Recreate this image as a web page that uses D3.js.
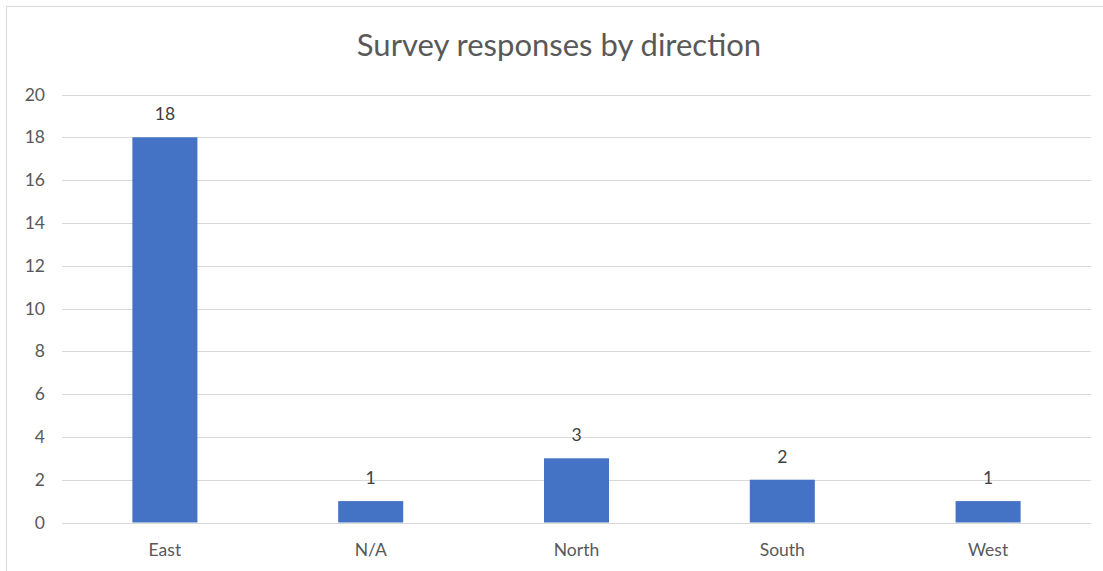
<!DOCTYPE html>
<html>
<head>
<meta charset="utf-8">
<script src="https://cdn.jsdelivr.net/npm/d3@7"></script>
<style>
  body { margin: 0; background: #fff; }
  text { font-family: Lato, "Open Sans", sans-serif; }
</style>
</head>
<body>
<svg width="1103" height="571"></svg>
<script>
const categories = ["East", "N/A", "North", "South", "West"];
const values = [18, 1, 3, 2, 1];
const yTicks = [0, 2, 4, 6, 8, 10, 12, 14, 16, 18, 20];

const svg = d3.select("svg");
const width = +svg.attr("width");
const height = +svg.attr("height");

// chart area border (right/bottom run off the picture)
svg.append("rect")
    .attr("x", 6.5).attr("y", 6.5)
    .attr("width", width + 10).attr("height", height + 10)
    .attr("fill", "none")
    .attr("stroke", "#d9d9d9");

svg.append("text")
    .attr("x", 559).attr("y", 56)
    .attr("text-anchor", "middle")
    .attr("font-size", 31)
    .attr("fill", "#595959")
    .text("Survey responses by direction");

const x = d3.scaleBand().domain(categories).range([62, 1091]);
const y = d3.scaleLinear().domain([0, 20]).range([522.5, 94.5]);

// gridlines
svg.append("g")
    .selectAll("line")
    .data(yTicks)
    .enter().append("line")
    .attr("x1", 62).attr("x2", 1091)
    .attr("y1", d => Math.round(y(d)) + 0.5)
    .attr("y2", d => Math.round(y(d)) + 0.5)
    .attr("stroke", "#d9d9d9")
    .attr("stroke-width", 1);

// y tick labels
svg.append("g")
    .selectAll("text")
    .data(yTicks)
    .enter().append("text")
    .attr("x", 45)
    .attr("y", d => y(d))
    .attr("dy", "0.35em")
    .attr("text-anchor", "end")
    .attr("font-size", 17.5)
    .attr("fill", "#595959")
    .text(d => d);

const barW = x.bandwidth() * 0.316;

svg.append("g")
    .selectAll("rect")
    .data(values)
    .enter().append("rect")
    .attr("x", (d, i) => x(categories[i]) + x.bandwidth() / 2 - barW / 2)
    .attr("y", d => y(d))
    .attr("width", barW)
    .attr("height", d => y(0) - y(d))
    .attr("fill", "#4472c4");

// data labels
svg.append("g")
    .selectAll("text")
    .data(values)
    .enter().append("text")
    .attr("x", (d, i) => x(categories[i]) + x.bandwidth() / 2)
    .attr("y", d => y(d) - 17)
    .attr("text-anchor", "middle")
    .attr("font-size", 17.5)
    .attr("fill", "#404040")
    .text(d => d);

// category labels
svg.append("g")
    .selectAll("text")
    .data(categories)
    .enter().append("text")
    .attr("x", d => x(d) + x.bandwidth() / 2)
    .attr("y", 556)
    .attr("text-anchor", "middle")
    .attr("font-size", 17.5)
    .attr("fill", "#595959")
    .text(d => d);
</script>
</body>
</html>
